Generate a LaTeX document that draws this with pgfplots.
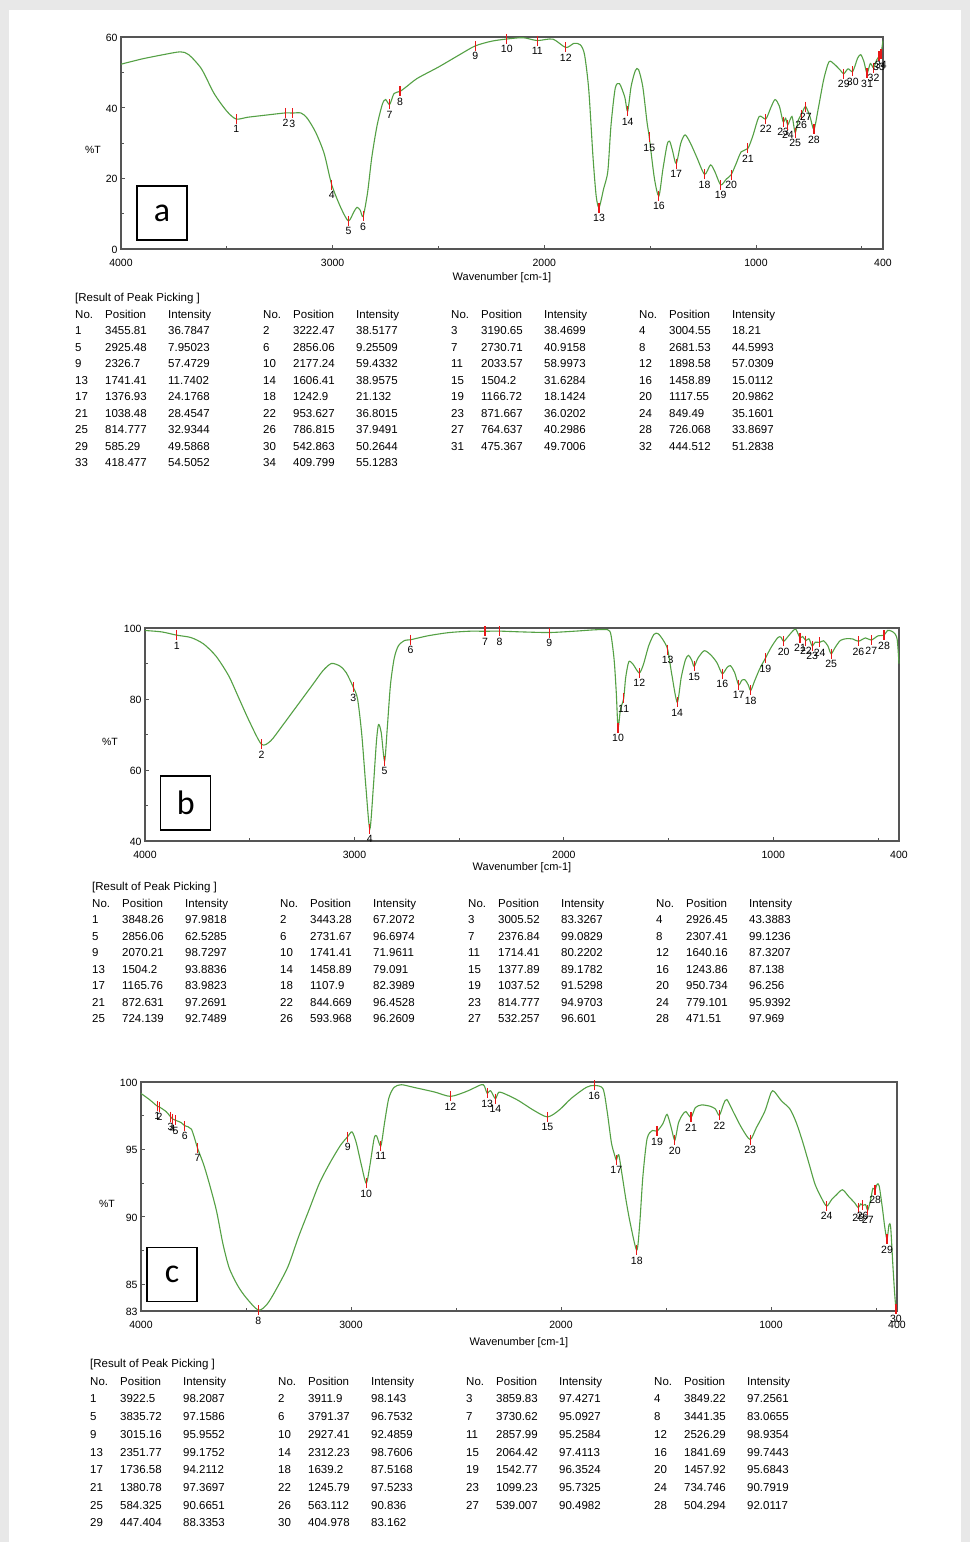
\documentclass[border=0pt]{standalone}
\usepackage{fontspec}
\setmainfont{Liberation Sans}
\newfontfamily\letterfont{Carlito}
\usepackage{pgfplots}
\usepackage{pgfplotstable}
\pgfplotsset{compat=1.18}

\definecolor{bggray}{RGB}{232,232,232}
\definecolor{curvegreen}{RGB}{84,160,68}
\definecolor{pkred}{RGB}{232,24,24}
\definecolor{framegray}{RGB}{85,85,85}

\newcommand{\grp}[3]{\makebox[30pt][l]{#1}\makebox[63pt][l]{#2}\makebox[95pt][l]{#3}}

\pgfplotstableread{
no pos int
1 3455.81 36.7847
2 3222.47 38.5177
3 3190.65 38.4699
4 3004.55 18.21
5 2925.48 7.95023
6 2856.06 9.25509
7 2730.71 40.9158
8 2681.53 44.5993
9 2326.7 57.4729
10 2177.24 59.4332
11 2033.57 58.9973
12 1898.58 57.0309
13 1741.41 11.7402
14 1606.41 38.9575
15 1504.2 31.6284
16 1458.89 15.0112
17 1376.93 24.1768
18 1242.9 21.132
19 1166.72 18.1424
20 1117.55 20.9862
21 1038.48 28.4547
22 953.627 36.8015
23 871.667 36.0202
24 849.49 35.1601
25 814.777 32.9344
26 786.815 37.9491
27 764.637 40.2986
28 726.068 33.8697
29 585.29 49.5868
30 542.863 50.2644
31 475.367 49.7006
32 444.512 51.2838
33 418.477 54.5052
34 409.799 55.1283
}\peaksA

\pgfplotstableread{
no pos int
1 3848.26 97.9818
2 3443.28 67.2072
3 3005.52 83.3267
4 2926.45 43.3883
5 2856.06 62.5285
6 2731.67 96.6974
7 2376.84 99.0829
8 2307.41 99.1236
9 2070.21 98.7297
10 1741.41 71.9611
11 1714.41 80.2202
12 1640.16 87.3207
13 1504.2 93.8836
14 1458.89 79.091
15 1377.89 89.1782
16 1243.86 87.138
17 1165.76 83.9823
18 1107.9 82.3989
19 1037.52 91.5298
20 950.734 96.256
21 872.631 97.2691
22 844.669 96.4528
23 814.777 94.9703
24 779.101 95.9392
25 724.139 92.7489
26 593.968 96.2609
27 532.257 96.601
28 471.51 97.969
}\peaksB

\pgfplotstableread{
no pos int
1 3922.5 98.2087
2 3911.9 98.143
3 3859.83 97.4271
4 3849.22 97.2561
5 3835.72 97.1586
6 3791.37 96.7532
7 3730.62 95.0927
8 3441.35 83.0655
9 3015.16 95.9552
10 2927.41 92.4859
11 2857.99 95.2584
12 2526.29 98.9354
13 2351.77 99.1752
14 2312.23 98.7606
15 2064.42 97.4113
16 1841.69 99.7443
17 1736.58 94.2112
18 1639.2 87.5168
19 1542.77 96.3524
20 1457.92 95.6843
21 1380.78 97.3697
22 1245.79 97.5233
23 1099.23 95.7325
24 734.746 90.7919
25 584.325 90.6651
26 563.112 90.836
27 539.007 90.4982
28 504.294 92.0117
29 447.404 88.3353
30 404.978 83.162
}\peaksC

\pgfplotsset{
  ftir/.style={
    scale only axis, x dir=reverse, xmin=400, xmax=4000,
    xtick={4000,3000,2000,1000,400},
    minor xtick={3500,2500,1500,500},
    tick align=inside, tick pos=left,
    axis line style={draw=framegray, line width=1.6pt},
    major tick style={draw=framegray, line width=0.8pt},
    minor tick style={draw=framegray, line width=0.8pt},
    major tick length=4pt, minor tick length=3pt,
    tick label style={font=\fontsize{10.5}{10.5}\selectfont},
    xticklabel style={yshift=-7pt},
    yticklabel style={yshift=-1pt},
    /pgf/number format/assume math mode=true,
    /pgf/number format/1000 sep={},
    xlabel={Wavenumber [cm-1]},
    xlabel style={font=\fontsize{11}{11}\selectfont, anchor=center},
    clip=false,
  },
  curvestyle/.style={draw=curvegreen, line width=1.1pt, smooth, tension=0.45, no marks},
  peakstyle/.style={only marks, mark=|, mark size=5pt,
    mark options={draw=pkred, line width=1.2pt},
    nodes near coords, point meta=explicit symbolic,
    every node near coord/.style={anchor=north, yshift=-6pt, inner sep=0pt,
      font=\fontsize{10.5}{10.5}\selectfont, text=black}},
}
\tikzset{
  boxstyle/.style={draw=black, line width=1.5pt, minimum width=50pt, minimum height=54pt,
    inner sep=0pt, font=\letterfont\fontsize{34}{34}\selectfont},
  tlabel/.style={font=\fontsize{10.5}{10.5}\selectfont},
  tabnode/.style={anchor=north west, inner sep=0pt, align=left},
}

\begin{document}
\begin{tikzpicture}
\fill[bggray] (0pt,0pt) rectangle (970pt,-1542pt);
\fill[white] (9pt,-10pt) rectangle (961pt,-1542pt);

% ---------------- (a) ----------------
\begin{axis}[ftir, at={(121pt,-249pt)}, anchor=south west, width=762pt, height=212pt,
  ymin=0, ymax=60, ytick={0,20,40,60}, minor ytick={10,30,50},
  xlabel style={at={(axis description cs:0.5,-0.137)}}]
\addplot[curvestyle] coordinates {
(4000,52.3) (3900,53.8) (3800,55.0) (3720,55.8) (3680,55.0) (3620,51) (3560,44) (3500,39)
(3455.81,36.7847) (3400,37.3) (3300,38.0) (3222.47,38.5177) (3190.65,38.4699) (3150,38.5)
(3120,37) (3080,33) (3040,27) (3004.55,18.21) (2960,11.5) (2925.48,7.95023) (2900,10.5)
(2885,11.8) (2870,11) (2856.06,9.25509) (2835,16) (2815,26) (2790,35) (2765,41) (2750,42.3)
(2730.71,40.9158) (2710,44) (2681.53,44.5993) (2650,46) (2600,48.3) (2500,51.5) (2400,55)
(2326.7,57.4729) (2250,58.8) (2177.24,59.4332) (2100,59.8) (2033.57,58.9973) (1960,59.4)
(1898.58,57.0309) (1860,58.2) (1830,57.8) (1810,55) (1790,45) (1770,26) (1755,15)
(1741.41,11.7402) (1720,17) (1700,22) (1685,35) (1665,45.5) (1645,46.8) (1620,43)
(1606.41,38.9575) (1590,46) (1570,50.5) (1555,50.8) (1535,46) (1515,36) (1504.2,31.6284)
(1480,20) (1458.89,15.0112) (1440,22.5) (1420,29.5) (1408,30.5) (1395,28) (1376.93,24.1768)
(1355,30) (1335,32.3) (1310,30) (1280,26) (1242.9,21.132) (1215,23.8) (1195,22)
(1166.72,18.1424) (1140,19.8) (1117.55,20.9862) (1095,24) (1070,27.5) (1038.48,28.4547)
(1015,32) (985,37.5) (953.627,36.8015) (930,40) (910,42.3) (890,40.5) (871.667,36.0202)
(860,37) (849.49,35.1601) (830,37.5) (814.777,32.9344) (800,36.5) (786.815,37.9491)
(775,39.5) (764.637,40.2986) (745,37.5) (726.068,33.8697) (705,40) (680,48) (655,53)
(630,52.3) (600,50.5) (585.29,49.5868) (565,51) (542.863,50.2644) (520,54) (505,55)
(490,53) (475.367,49.7006) (460,52.5) (444.512,51.2838) (430,53.5) (418.477,54.5052)
(409.799,55.1283) (400,59)
};
\addplot[peakstyle] table[x=pos, y=int, meta=no] {\peaksA};
\node[tlabel] at (axis description cs:0,0.5) [xshift=-28pt, yshift=-7pt] {\%T};
\node[boxstyle] at (axis description cs:0.0538,0.17) {a};
\end{axis}

% ---------------- (b) ----------------
\begin{axis}[ftir, at={(145pt,-841pt)}, anchor=south west, width=754pt, height=213pt,
  ymin=40, ymax=100, ytick={40,60,80,100}, minor ytick={50,70,90},
  xlabel style={at={(axis description cs:0.5,-0.127)}}]
\addplot[curvestyle] coordinates {
(4000,99.3) (3920,98.9) (3848.26,97.9818) (3780,97.3) (3720,95.5) (3660,92) (3600,86.5)
(3550,80) (3500,73.5) (3443.28,67.2072) (3400,68.2) (3350,72) (3300,76) (3250,80) (3200,84)
(3150,88) (3110,90) (3070,89.3) (3040,87.5) (3005.52,83.3267) (2985,80) (2965,70) (2945,55)
(2926.45,43.3883) (2910,55) (2895,68) (2885,72.8) (2872,70.5) (2856.06,62.5285) (2843,72)
(2828,84) (2810,91.5) (2790,95) (2760,96.5) (2731.67,96.6974) (2650,97.8) (2550,98.7)
(2450,99.1) (2376.84,99.0829) (2307.41,99.1236) (2200,98.9) (2070.21,98.7297) (1950,99.1)
(1850,99.5) (1790,99.5) (1775,98) (1760,91) (1750,82) (1741.41,71.9611) (1730,77)
(1714.41,80.2202) (1705,86) (1690,90.5) (1670,89.8) (1640.16,87.3207) (1620,89.8) (1595,95)
(1570,98.2) (1550,98.4) (1525,96.5) (1504.2,93.8836) (1485,87) (1458.89,79.091) (1440,86)
(1420,91) (1405,92.3) (1390,91) (1377.89,89.1782) (1360,91.5) (1330,93.6) (1300,92.5)
(1270,90.3) (1243.86,87.138) (1222,88.8) (1205,89.4) (1185,87.5) (1165.76,83.9823)
(1150,85.3) (1135,85.4) (1120,84) (1107.9,82.3989) (1090,85) (1065,88.5) (1037.52,91.5298)
(1010,94.6) (980,97.2) (965,97.5) (950.734,96.256) (930,97.6) (905,99.3) (892,99.6)
(872.631,97.2691) (860,97.6) (844.669,96.4528) (830,97) (814.777,94.9703) (800,96)
(779.101,95.9392) (760,96.4) (740,95) (724.139,92.7489) (705,94.5) (680,96.5) (650,97)
(620,96.9) (593.968,96.2609) (560,97.2) (532.257,96.601) (500,97.8) (471.51,97.969)
(455,99.3) (435,99.1) (418,98.3) (408,96.5) (400,90)
};
\addplot[peakstyle] table[x=pos, y=int, meta=no] {\peaksB};
\node[tlabel] at (axis description cs:0,0.5) [xshift=-35pt, yshift=-7pt] {\%T};
\node[boxstyle] at (axis description cs:0.054,0.178) {b};
\end{axis}

% ---------------- (c) ----------------
\begin{axis}[ftir, at={(141pt,-1311pt)}, anchor=south west, width=756pt, height=229pt,
  ymin=83, ymax=100, ytick={83,85,90,95,100}, minor ytick={87.5,92.5,97.5},
  xlabel style={at={(axis description cs:0.5,-0.14)}}]
\addplot[curvestyle] coordinates {
(4000,99.15) (3960,98.7) (3922.5,98.2087) (3911.9,98.143) (3880,97.8) (3859.83,97.4271)
(3849.22,97.2561) (3835.72,97.1586) (3810,97.0) (3791.37,96.7532) (3760,96.5)
(3730.62,95.0927) (3700,93.8) (3670,92.2) (3640,90.4) (3610,88.0) (3580,86.2) (3540,84.9)
(3500,84.0) (3441.35,83.0655) (3400,83.5) (3360,84.5) (3300,86.3) (3250,88.5) (3200,90.5)
(3150,92.5) (3100,94) (3050,95.3) (3015.16,95.9552) (2995,96.3) (2975,95.5) (2950,93.8)
(2927.41,92.4859) (2910,93.8) (2890,95.8) (2878,96.0) (2857.99,95.2584) (2840,97)
(2820,98.8) (2795,99.6) (2760,99.8) (2700,99.6) (2600,99.25) (2526.29,98.9354) (2450,99.3)
(2380,99.8) (2365,99.7) (2351.77,99.1752) (2335,99.35) (2312.23,98.7606) (2295,99.25)
(2250,99.0) (2200,98.6) (2130,97.9) (2064.42,97.4113) (2010,97.9) (1950,98.8) (1880,99.6)
(1841.69,99.7443) (1800,99.5) (1780,97.8) (1760,95.5) (1745,94.6) (1736.58,94.2112)
(1725,94.6) (1710,93.2) (1690,91.2) (1670,89.5) (1639.2,87.5168) (1625,89.5) (1610,93)
(1590,95.8) (1565,96.4) (1542.77,96.3524) (1515,96.9) (1495,97.6) (1475,96.6)
(1457.92,95.6843) (1440,97.0) (1420,97.6) (1405,97.8) (1380.78,97.3697) (1360,98.1)
(1330,98.3) (1290,98.2) (1265,98.0) (1245.79,97.5233) (1225,98.4) (1210,98.7) (1180,97.8)
(1140,96.6) (1099.23,95.7325) (1070,96.6) (1030,97.8) (1000,99.2) (985,99.3) (950,98.6)
(910,98.0) (880,97.0) (850,95.6) (820,94.0) (790,92.4) (760,91.4) (734.746,90.7919)
(710,91.3) (690,91.6) (660,92.0) (630,91.5) (600,91.0) (584.325,90.6651) (573,90.95)
(563.112,90.836) (550,90.9) (539.007,90.4982) (525,91.3) (515,92.1) (504.294,92.0117)
(495,92.4) (485,92.3) (470,90.7) (458,89.2) (447.404,88.3353) (438,89.4) (430,89.2)
(420,86.5) (412,84.5) (404.978,83.162) (400,83.0)
};
\addplot[peakstyle] table[x=pos, y=int, meta=no] {\peaksC};
\node[tlabel] at (axis description cs:0,0.5) [xshift=-34pt, yshift=-7pt] {\%T};
\node[boxstyle] at (axis description cs:0.041,0.16) {c};
\end{axis}

% ---------------- tables ----------------
\node[tabnode, font=\fontsize{11.5}{16.5}\selectfont] at (75pt,-293pt) {%
[Result of Peak Picking ]\\
\grp{No.}{Position}{Intensity}\grp{No.}{Position}{Intensity}\grp{No.}{Position}{Intensity}\grp{No.}{Position}{Intensity}\\
\grp{1}{3455.81}{36.7847}\grp{2}{3222.47}{38.5177}\grp{3}{3190.65}{38.4699}\grp{4}{3004.55}{18.21}\\
\grp{5}{2925.48}{7.95023}\grp{6}{2856.06}{9.25509}\grp{7}{2730.71}{40.9158}\grp{8}{2681.53}{44.5993}\\
\grp{9}{2326.7}{57.4729}\grp{10}{2177.24}{59.4332}\grp{11}{2033.57}{58.9973}\grp{12}{1898.58}{57.0309}\\
\grp{13}{1741.41}{11.7402}\grp{14}{1606.41}{38.9575}\grp{15}{1504.2}{31.6284}\grp{16}{1458.89}{15.0112}\\
\grp{17}{1376.93}{24.1768}\grp{18}{1242.9}{21.132}\grp{19}{1166.72}{18.1424}\grp{20}{1117.55}{20.9862}\\
\grp{21}{1038.48}{28.4547}\grp{22}{953.627}{36.8015}\grp{23}{871.667}{36.0202}\grp{24}{849.49}{35.1601}\\
\grp{25}{814.777}{32.9344}\grp{26}{786.815}{37.9491}\grp{27}{764.637}{40.2986}\grp{28}{726.068}{33.8697}\\
\grp{29}{585.29}{49.5868}\grp{30}{542.863}{50.2644}\grp{31}{475.367}{49.7006}\grp{32}{444.512}{51.2838}\\
\grp{33}{418.477}{54.5052}\grp{34}{409.799}{55.1283}};

\node[tabnode, font=\fontsize{11.5}{16.5}\selectfont] at (92pt,-882pt) {%
[Result of Peak Picking ]\\
\grp{No.}{Position}{Intensity}\grp{No.}{Position}{Intensity}\grp{No.}{Position}{Intensity}\grp{No.}{Position}{Intensity}\\
\grp{1}{3848.26}{97.9818}\grp{2}{3443.28}{67.2072}\grp{3}{3005.52}{83.3267}\grp{4}{2926.45}{43.3883}\\
\grp{5}{2856.06}{62.5285}\grp{6}{2731.67}{96.6974}\grp{7}{2376.84}{99.0829}\grp{8}{2307.41}{99.1236}\\
\grp{9}{2070.21}{98.7297}\grp{10}{1741.41}{71.9611}\grp{11}{1714.41}{80.2202}\grp{12}{1640.16}{87.3207}\\
\grp{13}{1504.2}{93.8836}\grp{14}{1458.89}{79.091}\grp{15}{1377.89}{89.1782}\grp{16}{1243.86}{87.138}\\
\grp{17}{1165.76}{83.9823}\grp{18}{1107.9}{82.3989}\grp{19}{1037.52}{91.5298}\grp{20}{950.734}{96.256}\\
\grp{21}{872.631}{97.2691}\grp{22}{844.669}{96.4528}\grp{23}{814.777}{94.9703}\grp{24}{779.101}{95.9392}\\
\grp{25}{724.139}{92.7489}\grp{26}{593.968}{96.2609}\grp{27}{532.257}{96.601}\grp{28}{471.51}{97.969}};

\node[tabnode, font=\fontsize{11.5}{17.7}\selectfont] at (90pt,-1359pt) {%
[Result of Peak Picking ]\\
\grp{No.}{Position}{Intensity}\grp{No.}{Position}{Intensity}\grp{No.}{Position}{Intensity}\grp{No.}{Position}{Intensity}\\
\grp{1}{3922.5}{98.2087}\grp{2}{3911.9}{98.143}\grp{3}{3859.83}{97.4271}\grp{4}{3849.22}{97.2561}\\
\grp{5}{3835.72}{97.1586}\grp{6}{3791.37}{96.7532}\grp{7}{3730.62}{95.0927}\grp{8}{3441.35}{83.0655}\\
\grp{9}{3015.16}{95.9552}\grp{10}{2927.41}{92.4859}\grp{11}{2857.99}{95.2584}\grp{12}{2526.29}{98.9354}\\
\grp{13}{2351.77}{99.1752}\grp{14}{2312.23}{98.7606}\grp{15}{2064.42}{97.4113}\grp{16}{1841.69}{99.7443}\\
\grp{17}{1736.58}{94.2112}\grp{18}{1639.2}{87.5168}\grp{19}{1542.77}{96.3524}\grp{20}{1457.92}{95.6843}\\
\grp{21}{1380.78}{97.3697}\grp{22}{1245.79}{97.5233}\grp{23}{1099.23}{95.7325}\grp{24}{734.746}{90.7919}\\
\grp{25}{584.325}{90.6651}\grp{26}{563.112}{90.836}\grp{27}{539.007}{90.4982}\grp{28}{504.294}{92.0117}\\
\grp{29}{447.404}{88.3353}\grp{30}{404.978}{83.162}};
\end{tikzpicture}
\end{document}
